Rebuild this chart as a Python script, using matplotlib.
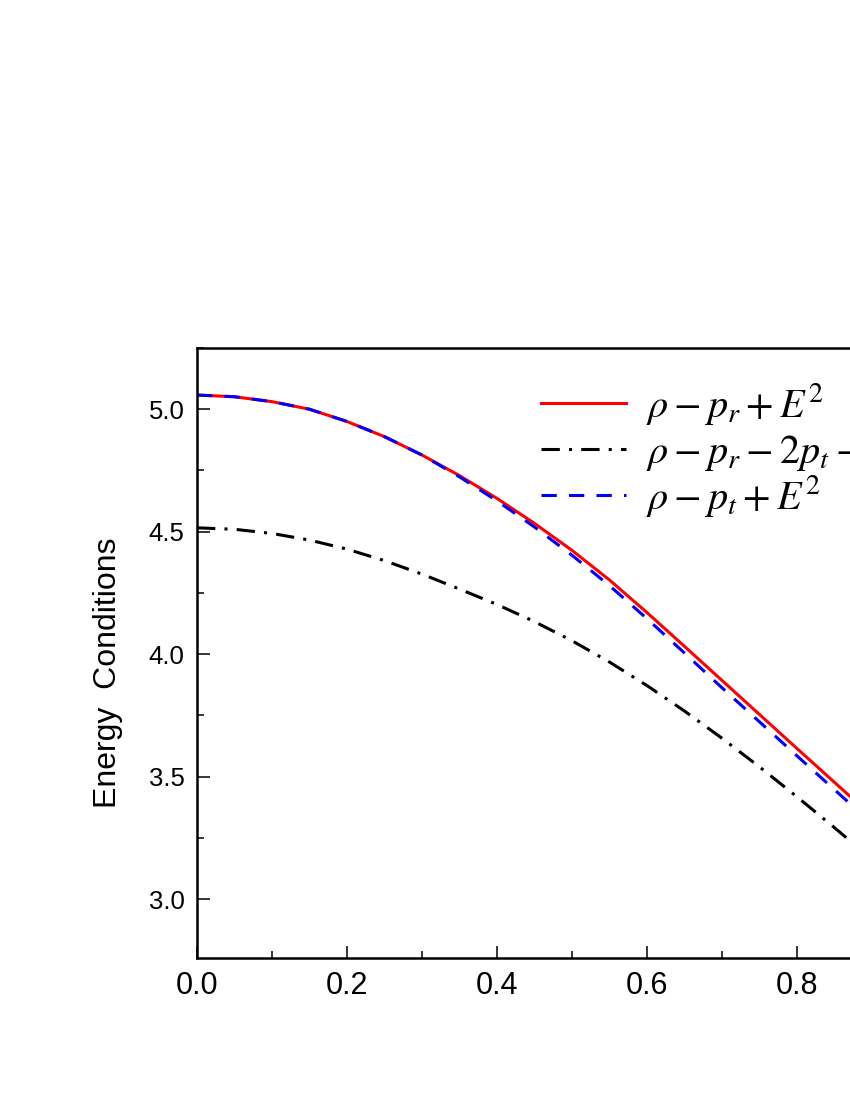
import numpy as np
import matplotlib
matplotlib.use('Agg')
import matplotlib.pyplot as plt
from matplotlib.ticker import MultipleLocator

plt.rcParams['mathtext.fontset'] = 'stix'

# values
r = [0.00, 0.05, 0.10, 0.15, 0.20, 0.25, 0.30, 0.35, 0.40, 0.45,
     0.50, 0.55, 0.60, 0.65, 0.70, 0.75, 0.80, 0.85, 0.90]
dec_r = [5.058, 5.051, 5.031, 5.000, 4.950, 4.888, 4.813, 4.729, 4.636, 4.534,
         4.424, 4.303, 4.170, 4.032, 3.893, 3.754, 3.615, 3.477, 3.339]
sec = [4.516, 4.510, 4.493, 4.466, 4.429, 4.382, 4.327, 4.266, 4.203, 4.133,
       4.055, 3.968, 3.872, 3.768, 3.657, 3.540, 3.418, 3.292, 3.162]
dec_t = [5.058, 5.051, 5.031, 5.000, 4.950, 4.888, 4.813, 4.724, 4.626, 4.519,
         4.404, 4.280, 4.145, 4.005, 3.863, 3.724, 3.585, 3.447, 3.309]

labels = [r'$\rho - p_r + E^2$',
          r'$\rho - p_r - 2p_t - E^2$',
          r'$\rho - p_t + E^2$']

xticks = [0.0, 0.2, 0.4, 0.6, 0.8]
yticks = [3.0, 3.5, 4.0, 4.5, 5.0]

fig = plt.figure(figsize=(8.5, 11), dpi=100)
ax = fig.add_axes([197 / 850, 142 / 1100, 750 / 850, 610 / 1100])

ax.plot(r, dec_r, color='red', lw=2.2, label=labels[0])
ax.plot(r, sec, color='black', lw=2.2, dashes=(6, 3, 1, 3), label=labels[1])
ax.plot(r, dec_t, color='blue', lw=2.2, dashes=(5, 4), label=labels[2])

ax.set_xlim(0, 1.0)
ax.set_ylim(2.76, 5.25)
ax.set_xticks(xticks)
ax.set_xticklabels(['%.1f' % v for v in xticks],
                   family=['Liberation Sans Narrow', 'Liberation Sans'], fontsize=22)
ax.xaxis.set_minor_locator(MultipleLocator(0.1))
ax.set_yticks(yticks)
ax.set_yticklabels(['%.1f' % v for v in yticks],
                   family='Liberation Sans', fontsize=18.5)
ax.yaxis.set_minor_locator(MultipleLocator(0.25))
ax.tick_params(which='both', direction='in', top=False, right=False, width=1.1)
ax.tick_params(which='major', length=9)
ax.tick_params(which='minor', length=5)
ax.tick_params(axis='x', pad=9)
ax.tick_params(axis='y', pad=9)
for s in ax.spines.values():
    s.set_linewidth(1.8)

fig.text(108 / 850, 1 - 673 / 1100, 'Energy  Conditions', rotation=90,
         ha='center', va='center', family='Liberation Sans', fontsize=23)

ax.legend(loc='upper left', bbox_to_anchor=(541 / 850, 1 - 381 / 1100),
          bbox_transform=fig.transFigure, frameon=False, fontsize=29,
          borderpad=0, borderaxespad=0, handlelength=2.1, handletextpad=0.5,
          labelspacing=0.0)

fig.savefig('out.png', dpi=100)
